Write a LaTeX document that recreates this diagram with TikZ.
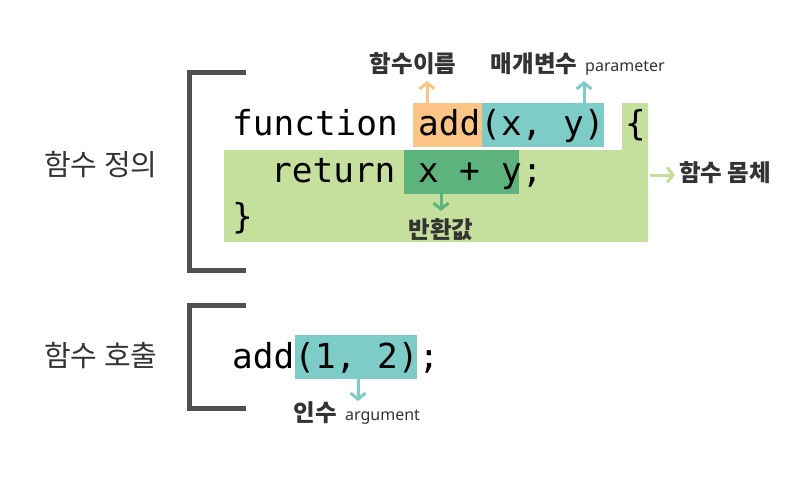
\documentclass[tikz,border=0pt]{standalone}
\usepackage{fontspec}
\usetikzlibrary{arrows.meta}
\newfontfamily\kr{Noto Sans CJK KR}
\newfontfamily\codefont{DejaVu Sans Mono}
\newfontfamily\smallsans{Noto Sans}
\definecolor{bracketgray}{HTML}{505050}
\definecolor{bodygreen}{HTML}{C5DF9C}
\definecolor{namecol}{HTML}{FDC585}
\definecolor{paramcol}{HTML}{7DCCC7}
\definecolor{retcol}{HTML}{5DB37C}
\definecolor{labelcol}{HTML}{333333}
\tikzset{
  bracketline/.style={draw=bracketgray, line width=5pt},
  hbox/.style={rectangle, inner sep=0pt, anchor=north west},
  code/.style={font=\codefont\fontsize{34.4}{40}\selectfont, inner sep=0pt, anchor=base west},
  klabel/.style={font=\kr\bfseries\fontsize{23.5}{28}\selectfont, text=labelcol, inner sep=0pt},
  sidelabel/.style={font=\kr\fontsize{29}{34}\selectfont, text=labelcol, inner sep=0pt, anchor=west},
  small/.style={font=\smallsans\fontsize{16}{18}\selectfont, text=labelcol, inner sep=0pt, anchor=base west},
  arr/.style={line width=3pt, -{Straight Barb[length=6pt,width=15pt]}},
}
\begin{document}
\begin{tikzpicture}[x=1pt,y=-1pt]
\useasboundingbox (0,0) rectangle (811,480);
% brackets
\draw[bracketline] (246,72) -- (189,72) -- (189,270) -- (246,270);
\draw[bracketline] (246,305) -- (189,305) -- (189,408) -- (246,408);
% side labels
\node[sidelabel] (defl) at (44,165) {함수 정의};
\node[sidelabel] (calll) at (44,356) {함수 호출};
% body
\fill[bodygreen] (224,150) -- (622,150) -- (622,103) -- (648,103) -- (648,242) -- (224,242) -- cycle;
\coordinate (bodyR) at (650,175);
% highlight boxes
\node[hbox, fill=namecol, minimum width=69pt, minimum height=44pt] (addbox) at (413,103) {};
\node[hbox, fill=paramcol, minimum width=122pt, minimum height=44pt] (parbox) at (482,103) {};
\node[hbox, fill=retcol, minimum width=115pt, minimum height=44pt] (retbox) at (404,150) {};
\node[hbox, fill=paramcol, minimum width=122pt, minimum height=44pt] (argbox) at (295,335) {};
% code
\node[code] (l1a) at (232,135) {function};
\node[code] (l1b) at (418,135) {add(x,};
\node[code] (l1c) at (563,135) {y)};
\node[code] (l1d) at (625,135) {\{};
\node[code] (l2a) at (271,182) {return};
\node[code] (l2b) at (418,182) {x};
\node[code] (l2c) at (459,182) {+};
\node[code] (l2d) at (501,182) {y;};
\node[code] (l3) at (232,228) {\}};
\node[code] (c1) at (232,368) {add(1,};
\node[code] (c2) at (377,368) {2);};
% labels
\node[klabel] (namel) at (413,64) {함수이름};
\node[klabel] (parl) at (534,64) {매개변수};
\node[small] (parsm) at (585,71) {parameter};
\node[klabel, anchor=west] (bodyl) at (679,173) {함수 몸체};
\node[klabel] (retl) at (441,230) {반환값};
\node[klabel] (argl) at (315,413) {인수};
\node[small] (argsm) at (345,420) {argument};
% arrows
\coordinate (nameT) at (427,81);
\coordinate (parT) at (584,81);
\coordinate (bodyT) at (675,175);
\coordinate (retT) at (441,211);
\coordinate (argT) at (358,401);
\draw[arr, draw=namecol] (addbox.north -| nameT) -- (nameT);
\draw[arr, draw=paramcol] (parbox.north -| parT) -- (parT);
\draw[arr, draw=bodygreen] (bodyR) -- (bodyT);
\draw[arr, draw=retcol] (retbox.south -| retT) -- (retT);
\draw[arr, draw=paramcol] (argbox.south -| argT) -- (argT);
\end{tikzpicture}
\end{document}
